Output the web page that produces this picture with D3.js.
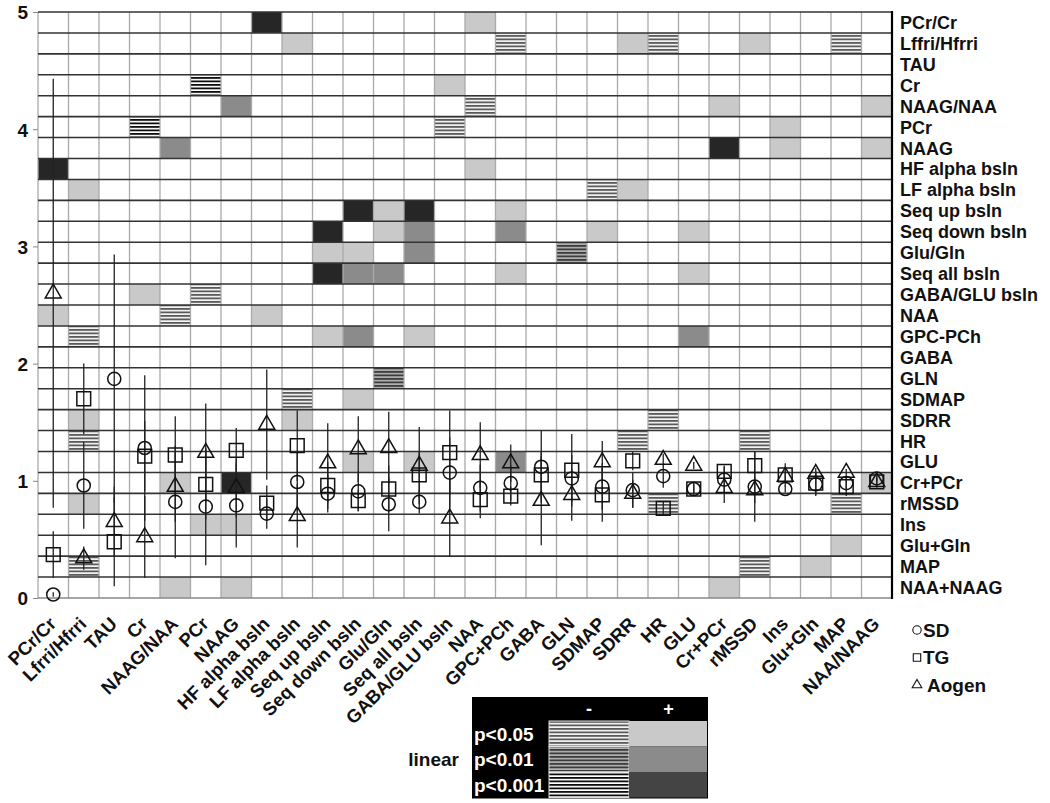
<!DOCTYPE html>
<html>
<head>
<meta charset="utf-8">
<script src="https://cdnjs.cloudflare.com/ajax/libs/d3/7.8.5/d3.min.js"></script>
<style>
  body { margin: 0; background: #fff; }
  text { font-family: "Liberation Sans", Arial, sans-serif; font-weight: bold; fill: #111; }
</style>
</head>
<body>
<svg id="chart" width="1050" height="803"></svg>
<script>
// categories along the bottom and down the right side
var columns = ["PCr/Cr", "Lfrri/Hfrri", "TAU", "Cr", "NAAG/NAA", "PCr", "NAAG", "HF alpha bsln",
  "LF alpha bsln", "Seq up bsln", "Seq down bsln", "Glu/Gln", "Seq all bsln", "GABA/GLU bsln",
  "NAA", "GPC+PCh", "GABA", "GLN", "SDMAP", "SDRR", "HR", "GLU", "Cr+PCr", "rMSSD", "Ins",
  "Glu+Gln", "MAP", "NAA/NAAG"];
var rowLabels = ["PCr/Cr", "Lffri/Hfrri", "TAU", "Cr", "NAAG/NAA", "PCr", "NAAG", "HF alpha bsln",
  "LF alpha bsln", "Seq up bsln", "Seq down bsln", "Glu/Gln", "Seq all bsln", "GABA/GLU bsln",
  "NAA", "GPC-PCh", "GABA", "GLN", "SDMAP", "SDRR", "HR", "GLU", "Cr+PCr", "rMSSD", "Ins",
  "Glu+Gln", "MAP", "NAA+NAAG"];
var yTicks = [0, 1, 2, 3, 4, 5];

// group means and error bars, one value per column
var sdMean = [0.03, 0.96, 1.87, 1.28, 0.82, 0.78, 0.79, 0.72, 0.99, 0.89, 0.91, 0.80, 0.82, 1.07,
  0.94, 0.98, 1.12, 1.02, 0.95, 0.92, 1.04, 0.93, 1.01, 0.95, 0.93, 0.97, 0.98, 1.02];
var sdErr = [0.02, 0.37, 1.06, 0.62, 0.48, 0.50, 0.36, 0.13, 0.25, 0.16, 0.17, 0.23, 0.10, 0.30,
  0.20, 0.15, 0.31, 0.20, 0.20, 0.15, 0.10, 0.04, 0.11, 0.30, 0.03, 0.10, 0.05, 0.02];
var tgMean = [0.37, 1.70, 0.48, 1.21, 1.22, 0.97, 1.26, 0.81, 1.30, 0.96, 0.83, 0.93, 1.05, 1.24,
  0.84, 0.87, 1.05, 1.09, 0.88, 1.17, 0.765, 0.93, 1.08, 1.13, 1.05, 0.98, 0.95, 0.99];
var tgErr = [0.20, 0.30, 0.38, 0.30, 0.33, 0.30, 0.19, 0.15, 0.30, 0.20, 0.09, 0.20, 0.20, 0.36,
  0.16, 0.08, 0.20, 0.31, 0.23, 0.08, 0.06, 0.06, 0.05, 0.12, 0.10, 0.10, 0.08, 0.05];
var aoMean = [2.60, 0.34, 0.65, 0.52, 0.95, 1.24, 0.94, 1.48, 0.70, 1.15, 1.27, 1.28, 1.13, 0.68,
  1.22, 1.15, 0.83, 0.88, 1.16, 0.89, 1.18, 1.13, 0.94, 0.92, 1.035, 1.06, 1.07, 0.99];
var aoErr = [1.83, 0.10, 0.30, 0.35, 0.30, 0.42, 0.25, 0.47, 0.27, 0.34, 0.28, 0.31, 0.33, 0.33,
  0.28, 0.16, 0.38, 0.22, 0.18, 0.12, 0.05, 0.03, 0.13, 0.11, 0.05, 0.05, 0.03, 0.03];

// significant cells: [column index, row index, level]; + solid, - striped; 1:p<0.05 2:p<0.01 3:p<0.001
var cells = [
  [7, 0, "+3"], [14, 0, "+1"],
  [8, 1, "+1"], [15, 1, "-1"], [19, 1, "+1"], [20, 1, "-1"], [23, 1, "+1"], [26, 1, "-1"],
  [5, 3, "-3"], [13, 3, "+1"],
  [6, 4, "+2"], [14, 4, "-1"], [22, 4, "+1"], [27, 4, "+1"],
  [3, 5, "-3"], [13, 5, "-1"], [24, 5, "+1"],
  [4, 6, "+2"], [22, 6, "+3"], [24, 6, "+1"], [27, 6, "+1"],
  [0, 7, "+3"], [14, 7, "+1"],
  [1, 8, "+1"], [18, 8, "-1"], [19, 8, "+1"],
  [10, 9, "+3"], [11, 9, "+1"], [12, 9, "+3"], [15, 9, "+1"],
  [9, 10, "+3"], [11, 10, "+1"], [12, 10, "+2"], [15, 10, "+2"], [18, 10, "+1"], [21, 10, "+1"],
  [9, 11, "+1"], [10, 11, "+1"], [12, 11, "+2"], [17, 11, "-2"],
  [9, 12, "+3"], [10, 12, "+2"], [11, 12, "+2"], [15, 12, "+1"], [21, 12, "+1"],
  [3, 13, "+1"], [5, 13, "-1"],
  [0, 14, "+1"], [4, 14, "-1"], [7, 14, "+1"],
  [1, 15, "-1"], [9, 15, "+1"], [10, 15, "+2"], [12, 15, "+1"], [21, 15, "+2"],
  [11, 17, "-2"],
  [8, 18, "-1"], [10, 18, "+1"],
  [1, 19, "+1"], [8, 19, "+1"], [20, 19, "-1"],
  [1, 20, "-1"], [19, 20, "-1"], [23, 20, "-1"],
  [10, 21, "+1"], [12, 21, "+1"], [15, 21, "+2"],
  [4, 22, "+1"], [6, 22, "+3"], [27, 22, "+1"],
  [1, 23, "+1"], [20, 23, "-1"], [26, 23, "-1"],
  [5, 24, "+1"], [6, 24, "+1"],
  [26, 25, "+1"],
  [1, 26, "-1"], [23, 26, "-1"], [25, 26, "+1"],
  [4, 27, "+1"], [6, 27, "+1"], [22, 27, "+1"]
];

var legendLevels = ["p<0.05", "p<0.01", "p<0.001"];
var seriesNames = ["SD", "TG", "Aogen"];

var svg = d3.select("#chart");
var pLeft = 38, pRight = 892, pTop = 12, pBottom = 598;

var x = d3.scaleBand().domain(columns).range([pLeft, pRight]);
var rowScale = d3.scaleBand().domain(rowLabels).range([pTop, pBottom]);
var y = d3.scaleLinear().domain([0, 5]).range([pBottom, pTop]);

// fills for the cell levels
var solid = { "1": "#c9c9c9", "2": "#8b8b8b", "3": "#262626" };
var stripeBg = { "1": "#f4f4f4", "2": "#b0b0b0", "3": "#ffffff" };
var stripeFg = { "1": "#5a5a5a", "2": "#3c3c3c", "3": "#0d0d0d" };

var defs = svg.append("defs");
["1", "2", "3"].forEach(function (k) {
  var p = defs.append("pattern").attr("id", "stripe" + k)
    .attr("patternUnits", "userSpaceOnUse").attr("width", 8).attr("height", 3.5);
  p.append("rect").attr("width", 8).attr("height", 3.5).attr("fill", stripeBg[k]);
  p.append("rect").attr("y", 0).attr("width", 8).attr("height", 1.8).attr("fill", stripeFg[k]);
});

function cellFill(lvl) {
  var k = lvl.charAt(1);
  return lvl.charAt(0) === "+" ? solid[k] : "url(#stripe" + k + ")";
}

svg.append("rect").attr("x", pLeft).attr("y", pTop).attr("width", pRight - pLeft)
  .attr("height", pBottom - pTop).attr("fill", "#fff");

svg.append("g").selectAll("rect").data(cells).enter().append("rect")
  .attr("x", function (d) { return x(columns[d[0]]); })
  .attr("y", function (d) { return rowScale(rowLabels[d[1]]); })
  .attr("width", x.bandwidth())
  .attr("height", rowScale.bandwidth())
  .attr("fill", function (d) { return cellFill(d[2]); });

// grid
var grid = svg.append("g");
grid.selectAll("line.v").data(columns).enter().append("line")
  .attr("x1", function (d) { return x(d); }).attr("x2", function (d) { return x(d); })
  .attr("y1", pTop).attr("y2", pBottom)
  .attr("stroke", "#aaaaaa").attr("stroke-width", 1.3);
grid.selectAll("line.h").data(rowLabels).enter().append("line")
  .attr("x1", pLeft).attr("x2", pRight)
  .attr("y1", function (d) { return rowScale(d); }).attr("y2", function (d) { return rowScale(d); })
  .attr("stroke", "#333").attr("stroke-width", 1.6);
grid.append("line").attr("x1", pLeft).attr("x2", pRight).attr("y1", pBottom).attr("y2", pBottom)
  .attr("stroke", "#888").attr("stroke-width", 1.4);
grid.append("line").attr("x1", pRight).attr("x2", pRight).attr("y1", pTop - 1).attr("y2", pBottom + 1)
  .attr("stroke", "#000").attr("stroke-width", 2.2);

// y axis on the left
var yAxis = svg.append("g").attr("transform", "translate(" + pLeft + ",0)")
  .call(d3.axisLeft(y).tickValues(yTicks).tickSize(5).tickPadding(5).tickFormat(d3.format("d")));
yAxis.select(".domain").remove();
yAxis.selectAll(".tick line").attr("stroke", "#888");
yAxis.selectAll("text").style("font-size", "19px").attr("dy", "0.36em");

// row labels on the right
var rAxis = svg.append("g").attr("transform", "translate(" + (pRight + 6) + ",0)")
  .call(d3.axisRight(rowScale).tickSize(0).tickPadding(2));
rAxis.select(".domain").remove();
rAxis.selectAll("text").style("font-size", "18px").attr("dy", "0.36em");

// column labels underneath, slanted
svg.append("g").selectAll("text").data(columns).enter().append("text")
  .attr("text-anchor", "end")
  .attr("transform", function (d) {
    return "translate(" + (x(d) + x.bandwidth() / 2 + 4) + ",625) rotate(-45)";
  })
  .style("font-size", "18.5px")
  .text(function (d) { return d; });

// error bars and markers
var series = [
  { mean: sdMean, err: sdErr, type: d3.symbolCircle, size: 135 },
  { mean: tgMean, err: tgErr, type: d3.symbolSquare, size: 190 },
  { mean: aoMean, err: aoErr, type: d3.symbolTriangle, size: 110 }
];
var cx = function (i) { return x(columns[i]) + x.bandwidth() / 2; };

var bars = svg.append("g");
series.forEach(function (s) {
  bars.selectAll(null).data(s.mean).enter().append("line")
    .attr("x1", function (d, i) { return cx(i); }).attr("x2", function (d, i) { return cx(i); })
    .attr("y1", function (d, i) { return y(d + s.err[i]); })
    .attr("y2", function (d, i) { return y(Math.max(0, d - s.err[i])); })
    .attr("stroke", "#222").attr("stroke-width", 1.3);
});
var marks = svg.append("g");
series.forEach(function (s) {
  marks.selectAll(null).data(s.mean).enter().append("path")
    .attr("d", d3.symbol().type(s.type).size(s.size))
    .attr("transform", function (d, i) { return "translate(" + cx(i) + "," + y(d) + ")"; })
    .attr("fill", "none").attr("stroke", "#111").attr("stroke-width", 1.5);
});

// symbol legend
var sym = svg.append("g");
var symTypes = [d3.symbolCircle, d3.symbolSquare, d3.symbolTriangle];
seriesNames.forEach(function (n, i) {
  var yy = 630 + i * 27.5;
  sym.append("path").attr("d", d3.symbol().type(symTypes[i]).size(i === 2 ? 40 : 55))
    .attr("transform", "translate(917," + yy + ")")
    .attr("fill", "none").attr("stroke", "#111").attr("stroke-width", 1.1);
  sym.append("text").attr("x", i === 2 ? 927 : 923).attr("y", yy).attr("dy", "0.36em")
    .style("font-size", "19px").text(n);
});

// significance legend
var lg = svg.append("g");
var lx = 472, ly = 697, lw = 236, headH = 24, rowH = 25.5, labW = 77, colW = 80;
lg.append("rect").attr("x", lx).attr("y", ly).attr("width", lw).attr("height", headH + rowH * 3 + 1)
  .attr("fill", "#000");
lg.append("text").attr("x", lx + labW + colW / 2).attr("y", ly + headH / 2).attr("dy", "0.36em")
  .attr("text-anchor", "middle").style("fill", "#fff").style("font-size", "18px").text("-");
lg.append("text").attr("x", lx + labW + colW + (lw - labW - colW) / 2).attr("y", ly + headH / 2)
  .attr("dy", "0.36em").attr("text-anchor", "middle").style("fill", "#fff")
  .style("font-size", "18px").text("+");
legendLevels.forEach(function (t, i) {
  var ry = ly + headH + i * rowH;
  var k = String(i + 1);
  lg.append("rect").attr("x", lx + labW).attr("y", ry).attr("width", colW).attr("height", rowH)
    .attr("fill", "url(#stripe" + k + ")").attr("stroke", "#ddd").attr("stroke-width", 1);
  lg.append("rect").attr("x", lx + labW + colW).attr("y", ry).attr("width", lw - labW - colW - 1)
    .attr("height", rowH).attr("fill", solid[k] === "#262626" ? "#444" : solid[k]);
  lg.append("text").attr("x", lx + 2).attr("y", ry + rowH / 2).attr("dy", "0.36em")
    .style("fill", "#fff").style("font-size", "19px").text(t);
});
lg.append("text").attr("x", lx - 13).attr("y", ly + headH + rowH * 1.5).attr("dy", "0.36em")
  .attr("text-anchor", "end").style("font-size", "19px").text("linear");
</script>
</body>
</html>
